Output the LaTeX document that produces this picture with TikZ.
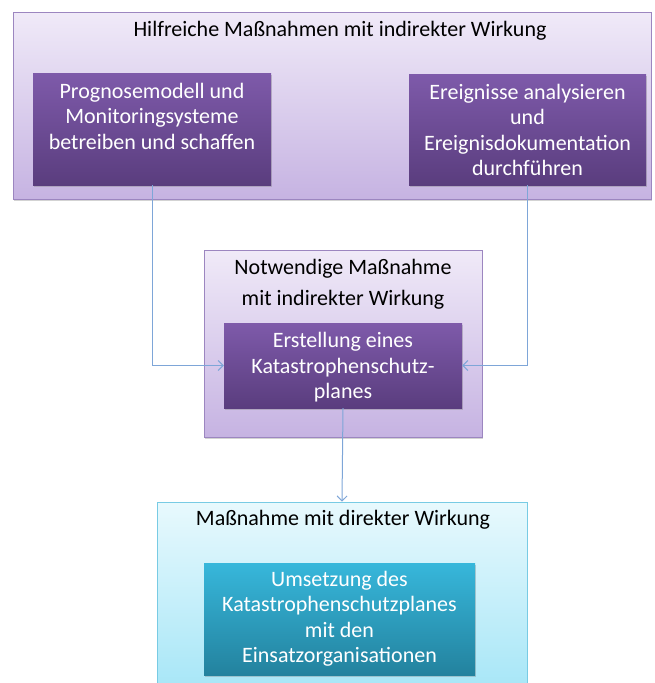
\documentclass[tikz,border=0pt]{standalone}
\usepackage{fontspec}
\setmainfont{Carlito}
\usetikzlibrary{arrows.meta,shadows}
\definecolor{conncol}{HTML}{7EA6D8}
\definecolor{pouttop}{HTML}{F0EAF8}
\definecolor{poutbot}{HTML}{C6B3E2}
\definecolor{poutdraw}{HTML}{9C86C0}
\definecolor{pintop}{HTML}{7E5AAA}
\definecolor{pinbot}{HTML}{5A3D7E}
\definecolor{couttop}{HTML}{E8F9FD}
\definecolor{coutbot}{HTML}{A6E6F7}
\definecolor{coutdraw}{HTML}{78CBE4}
\definecolor{cintop}{HTML}{37B7DB}
\definecolor{cinbot}{HTML}{23829E}
\tikzset{
  outerp/.style={draw=poutdraw, line width=0.8pt, top color=pouttop, bottom color=poutbot,
    drop shadow={shadow xshift=1pt, shadow yshift=-1.5pt, opacity=0.35}},
  innerp/.style={draw=none, top color=pintop, bottom color=pinbot,
    drop shadow={shadow xshift=0.8pt, shadow yshift=-1.5pt, opacity=0.35}},
  outerc/.style={draw=coutdraw, line width=0.8pt, top color=couttop, bottom color=coutbot},
  innerc/.style={draw=none, top color=cintop, bottom color=cinbot,
    drop shadow={shadow xshift=0.8pt, shadow yshift=-1.5pt, opacity=0.35}},
  intext/.style={text=white, align=center, font=\fontsize{22}{25.5}\selectfont, inner sep=0pt},
  titletext/.style={text=black, align=center, font=\fontsize{22}{25.5}\selectfont, inner sep=0pt},
  conn/.style={draw=conncol, line width=1pt, -{Straight Barb[length=5pt,width=10pt]}}
}
\begin{document}
\begin{tikzpicture}[x=1pt,y=-1pt]
\useasboundingbox (0,0) rectangle (654,683);
\clip (0,0) rectangle (654,683);
% top group
\node[outerp, minimum width=638pt, minimum height=187pt] (topgrp) at (332,105.5) {};
\node[titletext] (toptitle) at (340,31) {Hilfreiche Maßnahmen mit indirekter Wirkung};
\node[innerp, minimum width=238pt, minimum height=112pt] (L) at (152,129) {};
\node[intext] (Ltext) at (152,116) {Prognosemodell und\\Monitoringsysteme\\betreiben und schaffen};
\node[innerp, minimum width=237pt, minimum height=111pt] (R) at (527.5,129.5) {};
\node[intext] (Rtext) at (527.5,130) {Ereignisse analysieren\\und\\Ereignisdokumentation\\durchführen};
% middle group
\node[outerp, minimum width=278pt, minimum height=187pt] (midgrp) at (343,343.5) {};
\node[titletext, font=\fontsize{22}{31}\selectfont] (midtitle) at (343,284.5) {Notwendige Maßnahme\\mit indirekter Wirkung};
\node[innerp, minimum width=238pt, minimum height=85pt] (M) at (343,365.5) {};
\node[intext] (Mtext) at (343,367.5) {Erstellung eines\\Katastrophenschutz-\\planes};
% bottom group
\node[outerc, minimum width=370pt, minimum height=190pt] (botgrp) at (342,597) {};
\node[titletext] (bottitle) at (343,520) {Maßnahme mit direkter Wirkung};
\node[innerc, minimum width=271pt, minimum height=112pt] (B) at (339.5,619) {};
\node[intext] (Btext) at (339.5,618.5) {Umsetzung des\\Katastrophenschutzplanes\\mit den\\Einsatzorganisationen};
% connectors
\draw[conn] (L.south) |- (M.west);
\draw[conn] (R.south) |- (M.east);
\draw[conn] (M.south) -- (botgrp.north);
\end{tikzpicture}
\end{document}
